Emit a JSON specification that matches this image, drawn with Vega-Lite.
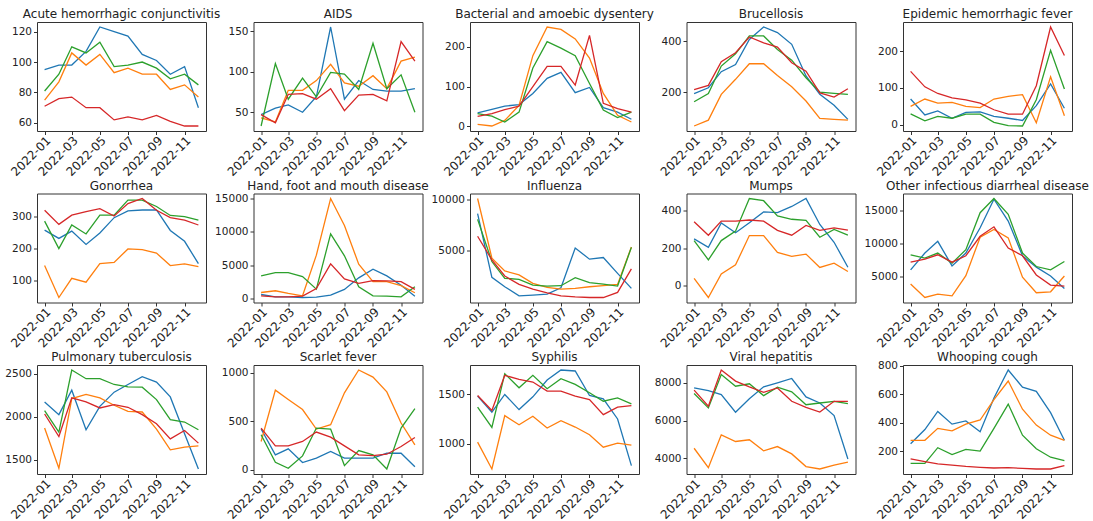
{
"$schema":"https://vega.github.io/schema/vega-lite/v6.json",
"padding":{"left":4,"top":7,"right":0,"bottom":0},
"columns":5,
"spacing":{"row":62.5,"column":47.5},
"bounds":"flush",
"config":{"font":"DejaVu Sans","view":{"stroke":"#333","strokeWidth":1},"axis":{"grid":false,"domain":false,"labelFont":"DejaVu Sans","labelFontSize":10.5,"labelColor":"#222","tickColor":"#333","tickSize":3.5,"labelPadding":2,"labelOverlap":false,"labelFlush":false},"axisX":{"labelAngle":-45,"labelFontSize":12,"labelPadding":0},"title":{"fontSize":12,"fontWeight":"normal","font":"DejaVu Sans","offset":1,"frame":"group","color":"#222"},"line":{"strokeWidth":1.3}},
"datasets":{
"p1":[{"t":"2022-01","s":"A","v":95},{"t":"2022-02","s":"A","v":98},{"t":"2022-03","s":"A","v":98},{"t":"2022-04","s":"A","v":107},{"t":"2022-05","s":"A","v":123},{"t":"2022-06","s":"A","v":120},{"t":"2022-07","s":"A","v":117},{"t":"2022-08","s":"A","v":105},{"t":"2022-09","s":"A","v":101},{"t":"2022-10","s":"A","v":92},{"t":"2022-11","s":"A","v":97},{"t":"2022-12","s":"A","v":70},
{"t":"2022-01","s":"B","v":75},{"t":"2022-02","s":"B","v":87},{"t":"2022-03","s":"B","v":106},{"t":"2022-04","s":"B","v":98},{"t":"2022-05","s":"B","v":105},{"t":"2022-06","s":"B","v":93},{"t":"2022-07","s":"B","v":96},{"t":"2022-08","s":"B","v":92},{"t":"2022-09","s":"B","v":92},{"t":"2022-10","s":"B","v":82},{"t":"2022-11","s":"B","v":85},{"t":"2022-12","s":"B","v":77},
{"t":"2022-01","s":"C","v":81},{"t":"2022-02","s":"C","v":92},{"t":"2022-03","s":"C","v":110},{"t":"2022-04","s":"C","v":106},{"t":"2022-05","s":"C","v":113},{"t":"2022-06","s":"C","v":97},{"t":"2022-07","s":"C","v":98},{"t":"2022-08","s":"C","v":100},{"t":"2022-09","s":"C","v":96},{"t":"2022-10","s":"C","v":89},{"t":"2022-11","s":"C","v":92},{"t":"2022-12","s":"C","v":85},
{"t":"2022-01","s":"D","v":71},{"t":"2022-02","s":"D","v":76},{"t":"2022-03","s":"D","v":77},{"t":"2022-04","s":"D","v":70},{"t":"2022-05","s":"D","v":70},{"t":"2022-06","s":"D","v":62},{"t":"2022-07","s":"D","v":64},{"t":"2022-08","s":"D","v":62},{"t":"2022-09","s":"D","v":65},{"t":"2022-10","s":"D","v":61},{"t":"2022-11","s":"D","v":58},{"t":"2022-12","s":"D","v":58}],
"p2":[{"t":"2022-01","s":"A","v":47},{"t":"2022-02","s":"A","v":55},{"t":"2022-03","s":"A","v":59},{"t":"2022-04","s":"A","v":50},{"t":"2022-05","s":"A","v":69},{"t":"2022-06","s":"A","v":155},{"t":"2022-07","s":"A","v":66},{"t":"2022-08","s":"A","v":89},{"t":"2022-09","s":"A","v":78},{"t":"2022-10","s":"A","v":76},{"t":"2022-11","s":"A","v":76},{"t":"2022-12","s":"A","v":79},
{"t":"2022-01","s":"B","v":43},{"t":"2022-02","s":"B","v":38},{"t":"2022-03","s":"B","v":77},{"t":"2022-04","s":"B","v":77},{"t":"2022-05","s":"B","v":89},{"t":"2022-06","s":"B","v":109},{"t":"2022-07","s":"B","v":86},{"t":"2022-08","s":"B","v":82},{"t":"2022-09","s":"B","v":95},{"t":"2022-10","s":"B","v":79},{"t":"2022-11","s":"B","v":113},{"t":"2022-12","s":"B","v":118},
{"t":"2022-01","s":"C","v":33},{"t":"2022-02","s":"C","v":110},{"t":"2022-03","s":"C","v":66},{"t":"2022-04","s":"C","v":92},{"t":"2022-05","s":"C","v":69},{"t":"2022-06","s":"C","v":99},{"t":"2022-07","s":"C","v":97},{"t":"2022-08","s":"C","v":78},{"t":"2022-09","s":"C","v":135},{"t":"2022-10","s":"C","v":79},{"t":"2022-11","s":"C","v":96},{"t":"2022-12","s":"C","v":50},
{"t":"2022-01","s":"D","v":47},{"t":"2022-02","s":"D","v":37},{"t":"2022-03","s":"D","v":72},{"t":"2022-04","s":"D","v":73},{"t":"2022-05","s":"D","v":66},{"t":"2022-06","s":"D","v":79},{"t":"2022-07","s":"D","v":52},{"t":"2022-08","s":"D","v":71},{"t":"2022-09","s":"D","v":72},{"t":"2022-10","s":"D","v":64},{"t":"2022-11","s":"D","v":137},{"t":"2022-12","s":"D","v":113}],
"p3":[{"t":"2022-01","s":"A","v":34},{"t":"2022-02","s":"A","v":43},{"t":"2022-03","s":"A","v":51},{"t":"2022-04","s":"A","v":55},{"t":"2022-05","s":"A","v":83},{"t":"2022-06","s":"A","v":121},{"t":"2022-07","s":"A","v":136},{"t":"2022-08","s":"A","v":85},{"t":"2022-09","s":"A","v":98},{"t":"2022-10","s":"A","v":47},{"t":"2022-11","s":"A","v":36},{"t":"2022-12","s":"A","v":18},
{"t":"2022-01","s":"B","v":5},{"t":"2022-02","s":"B","v":1},{"t":"2022-03","s":"B","v":15},{"t":"2022-04","s":"B","v":53},{"t":"2022-05","s":"B","v":178},{"t":"2022-06","s":"B","v":250},{"t":"2022-07","s":"B","v":244},{"t":"2022-08","s":"B","v":220},{"t":"2022-09","s":"B","v":172},{"t":"2022-10","s":"B","v":83},{"t":"2022-11","s":"B","v":28},{"t":"2022-12","s":"B","v":11},
{"t":"2022-01","s":"C","v":32},{"t":"2022-02","s":"C","v":26},{"t":"2022-03","s":"C","v":11},{"t":"2022-04","s":"C","v":36},{"t":"2022-05","s":"C","v":147},{"t":"2022-06","s":"C","v":213},{"t":"2022-07","s":"C","v":197},{"t":"2022-08","s":"C","v":178},{"t":"2022-09","s":"C","v":108},{"t":"2022-10","s":"C","v":41},{"t":"2022-11","s":"C","v":22},{"t":"2022-12","s":"C","v":36},
{"t":"2022-01","s":"D","v":25},{"t":"2022-02","s":"D","v":32},{"t":"2022-03","s":"D","v":42},{"t":"2022-04","s":"D","v":51},{"t":"2022-05","s":"D","v":100},{"t":"2022-06","s":"D","v":151},{"t":"2022-07","s":"D","v":151},{"t":"2022-08","s":"D","v":104},{"t":"2022-09","s":"D","v":229},{"t":"2022-10","s":"D","v":58},{"t":"2022-11","s":"D","v":45},{"t":"2022-12","s":"D","v":36}],
"p4":[{"t":"2022-01","s":"A","v":194},{"t":"2022-02","s":"A","v":217},{"t":"2022-03","s":"A","v":280},{"t":"2022-04","s":"A","v":308},{"t":"2022-05","s":"A","v":406},{"t":"2022-06","s":"A","v":455},{"t":"2022-07","s":"A","v":433},{"t":"2022-08","s":"A","v":387},{"t":"2022-09","s":"A","v":263},{"t":"2022-10","s":"A","v":191},{"t":"2022-11","s":"A","v":148},{"t":"2022-12","s":"A","v":93},
{"t":"2022-01","s":"B","v":67},{"t":"2022-02","s":"B","v":90},{"t":"2022-03","s":"B","v":191},{"t":"2022-04","s":"B","v":250},{"t":"2022-05","s":"B","v":311},{"t":"2022-06","s":"B","v":311},{"t":"2022-07","s":"B","v":265},{"t":"2022-08","s":"B","v":221},{"t":"2022-09","s":"B","v":165},{"t":"2022-10","s":"B","v":97},{"t":"2022-11","s":"B","v":93},{"t":"2022-12","s":"B","v":90},
{"t":"2022-01","s":"C","v":162},{"t":"2022-02","s":"C","v":194},{"t":"2022-03","s":"C","v":302},{"t":"2022-04","s":"C","v":350},{"t":"2022-05","s":"C","v":420},{"t":"2022-06","s":"C","v":420},{"t":"2022-07","s":"C","v":367},{"t":"2022-08","s":"C","v":325},{"t":"2022-09","s":"C","v":256},{"t":"2022-10","s":"C","v":200},{"t":"2022-11","s":"C","v":195},{"t":"2022-12","s":"C","v":191},
{"t":"2022-01","s":"D","v":210},{"t":"2022-02","s":"D","v":226},{"t":"2022-03","s":"D","v":319},{"t":"2022-04","s":"D","v":354},{"t":"2022-05","s":"D","v":416},{"t":"2022-06","s":"D","v":393},{"t":"2022-07","s":"D","v":376},{"t":"2022-08","s":"D","v":315},{"t":"2022-09","s":"D","v":282},{"t":"2022-10","s":"D","v":197},{"t":"2022-11","s":"D","v":180},{"t":"2022-12","s":"D","v":213}],
"p5":[{"t":"2022-01","s":"A","v":70},{"t":"2022-02","s":"A","v":27},{"t":"2022-03","s":"A","v":38},{"t":"2022-04","s":"A","v":18},{"t":"2022-05","s":"A","v":34},{"t":"2022-06","s":"A","v":35},{"t":"2022-07","s":"A","v":23},{"t":"2022-08","s":"A","v":18},{"t":"2022-09","s":"A","v":12},{"t":"2022-10","s":"A","v":52},{"t":"2022-11","s":"A","v":111},{"t":"2022-12","s":"A","v":45},
{"t":"2022-01","s":"B","v":50},{"t":"2022-02","s":"B","v":70},{"t":"2022-03","s":"B","v":59},{"t":"2022-04","s":"B","v":61},{"t":"2022-05","s":"B","v":50},{"t":"2022-06","s":"B","v":47},{"t":"2022-07","s":"B","v":70},{"t":"2022-08","s":"B","v":77},{"t":"2022-09","s":"B","v":82},{"t":"2022-10","s":"B","v":6},{"t":"2022-11","s":"B","v":130},{"t":"2022-12","s":"B","v":25},
{"t":"2022-01","s":"C","v":30},{"t":"2022-02","s":"C","v":11},{"t":"2022-03","s":"C","v":23},{"t":"2022-04","s":"C","v":18},{"t":"2022-05","s":"C","v":29},{"t":"2022-06","s":"C","v":29},{"t":"2022-07","s":"C","v":7},{"t":"2022-08","s":"C","v":-2},{"t":"2022-09","s":"C","v":-3},{"t":"2022-10","s":"C","v":68},{"t":"2022-11","s":"C","v":202},{"t":"2022-12","s":"C","v":97},
{"t":"2022-01","s":"D","v":145},{"t":"2022-02","s":"D","v":103},{"t":"2022-03","s":"D","v":85},{"t":"2022-04","s":"D","v":73},{"t":"2022-05","s":"D","v":68},{"t":"2022-06","s":"D","v":59},{"t":"2022-07","s":"D","v":41},{"t":"2022-08","s":"D","v":29},{"t":"2022-09","s":"D","v":29},{"t":"2022-10","s":"D","v":106},{"t":"2022-11","s":"D","v":265},{"t":"2022-12","s":"D","v":188}],
"p6":[{"t":"2022-01","s":"A","v":258},{"t":"2022-02","s":"A","v":232},{"t":"2022-03","s":"A","v":255},{"t":"2022-04","s":"A","v":213},{"t":"2022-05","s":"A","v":249},{"t":"2022-06","s":"A","v":297},{"t":"2022-07","s":"A","v":318},{"t":"2022-08","s":"A","v":321},{"t":"2022-09","s":"A","v":321},{"t":"2022-10","s":"A","v":257},{"t":"2022-11","s":"A","v":223},{"t":"2022-12","s":"A","v":153},
{"t":"2022-01","s":"B","v":147},{"t":"2022-02","s":"B","v":47},{"t":"2022-03","s":"B","v":107},{"t":"2022-04","s":"B","v":95},{"t":"2022-05","s":"B","v":153},{"t":"2022-06","s":"B","v":157},{"t":"2022-07","s":"B","v":199},{"t":"2022-08","s":"B","v":197},{"t":"2022-09","s":"B","v":186},{"t":"2022-10","s":"B","v":147},{"t":"2022-11","s":"B","v":152},{"t":"2022-12","s":"B","v":144},
{"t":"2022-01","s":"C","v":286},{"t":"2022-02","s":"C","v":200},{"t":"2022-03","s":"C","v":274},{"t":"2022-04","s":"C","v":246},{"t":"2022-05","s":"C","v":305},{"t":"2022-06","s":"C","v":305},{"t":"2022-07","s":"C","v":352},{"t":"2022-08","s":"C","v":352},{"t":"2022-09","s":"C","v":332},{"t":"2022-10","s":"C","v":304},{"t":"2022-11","s":"C","v":300},{"t":"2022-12","s":"C","v":289},
{"t":"2022-01","s":"D","v":320},{"t":"2022-02","s":"D","v":276},{"t":"2022-03","s":"D","v":305},{"t":"2022-04","s":"D","v":316},{"t":"2022-05","s":"D","v":325},{"t":"2022-06","s":"D","v":302},{"t":"2022-07","s":"D","v":341},{"t":"2022-08","s":"D","v":357},{"t":"2022-09","s":"D","v":320},{"t":"2022-10","s":"D","v":297},{"t":"2022-11","s":"D","v":289},{"t":"2022-12","s":"D","v":274}],
"p7":[{"t":"2022-01","s":"A","v":600},{"t":"2022-02","s":"A","v":250},{"t":"2022-03","s":"A","v":250},{"t":"2022-04","s":"A","v":150},{"t":"2022-05","s":"A","v":200},{"t":"2022-06","s":"A","v":500},{"t":"2022-07","s":"A","v":1360},{"t":"2022-08","s":"A","v":3100},{"t":"2022-09","s":"A","v":4400},{"t":"2022-10","s":"A","v":3400},{"t":"2022-11","s":"A","v":2000},{"t":"2022-12","s":"A","v":350},
{"t":"2022-01","s":"B","v":900},{"t":"2022-02","s":"B","v":1160},{"t":"2022-03","s":"B","v":760},{"t":"2022-04","s":"B","v":400},{"t":"2022-05","s":"B","v":6500},{"t":"2022-06","s":"B","v":15000},{"t":"2022-07","s":"B","v":10960},{"t":"2022-08","s":"B","v":5150},{"t":"2022-09","s":"B","v":2530},{"t":"2022-10","s":"B","v":2530},{"t":"2022-11","s":"B","v":1920},{"t":"2022-12","s":"B","v":860},
{"t":"2022-01","s":"C","v":3380},{"t":"2022-02","s":"C","v":3890},{"t":"2022-03","s":"C","v":3890},{"t":"2022-04","s":"C","v":3280},{"t":"2022-05","s":"C","v":1400},{"t":"2022-06","s":"C","v":9700},{"t":"2022-07","s":"C","v":6400},{"t":"2022-08","s":"C","v":1770},{"t":"2022-09","s":"C","v":400},{"t":"2022-10","s":"C","v":350},{"t":"2022-11","s":"C","v":250},{"t":"2022-12","s":"C","v":1770},
{"t":"2022-01","s":"D","v":400},{"t":"2022-02","s":"D","v":250},{"t":"2022-03","s":"D","v":250},{"t":"2022-04","s":"D","v":350},{"t":"2022-05","s":"D","v":1500},{"t":"2022-06","s":"D","v":5200},{"t":"2022-07","s":"D","v":2930},{"t":"2022-08","s":"D","v":2270},{"t":"2022-09","s":"D","v":2680},{"t":"2022-10","s":"D","v":2630},{"t":"2022-11","s":"D","v":2530},{"t":"2022-12","s":"D","v":1360}],
"p8":[{"t":"2022-01","s":"A","v":8600},{"t":"2022-02","s":"A","v":2440},{"t":"2022-03","s":"A","v":1530},{"t":"2022-04","s":"A","v":650},{"t":"2022-05","s":"A","v":720},{"t":"2022-06","s":"A","v":810},{"t":"2022-07","s":"A","v":1430},{"t":"2022-08","s":"A","v":5280},{"t":"2022-09","s":"A","v":4200},{"t":"2022-10","s":"A","v":4360},{"t":"2022-11","s":"A","v":2830},{"t":"2022-12","s":"A","v":1370},
{"t":"2022-01","s":"B","v":10070},{"t":"2022-02","s":"B","v":4300},{"t":"2022-03","s":"B","v":3060},{"t":"2022-04","s":"B","v":2670},{"t":"2022-05","s":"B","v":1860},{"t":"2022-06","s":"B","v":1470},{"t":"2022-07","s":"B","v":1300},{"t":"2022-08","s":"B","v":1370},{"t":"2022-09","s":"B","v":1530},{"t":"2022-10","s":"B","v":1630},{"t":"2022-11","s":"B","v":1760},{"t":"2022-12","s":"B","v":5370},
{"t":"2022-01","s":"C","v":8050},{"t":"2022-02","s":"C","v":3970},{"t":"2022-03","s":"C","v":2350},{"t":"2022-04","s":"C","v":2250},{"t":"2022-05","s":"C","v":1690},{"t":"2022-06","s":"C","v":1600},{"t":"2022-07","s":"C","v":1630},{"t":"2022-08","s":"C","v":2410},{"t":"2022-09","s":"C","v":1920},{"t":"2022-10","s":"C","v":1790},{"t":"2022-11","s":"C","v":1600},{"t":"2022-12","s":"C","v":5340},
{"t":"2022-01","s":"D","v":6420},{"t":"2022-02","s":"D","v":4140},{"t":"2022-03","s":"D","v":2570},{"t":"2022-04","s":"D","v":1760},{"t":"2022-05","s":"D","v":1300},{"t":"2022-06","s":"D","v":940},{"t":"2022-07","s":"D","v":650},{"t":"2022-08","s":"D","v":550},{"t":"2022-09","s":"D","v":490},{"t":"2022-10","s":"D","v":490},{"t":"2022-11","s":"D","v":980},{"t":"2022-12","s":"D","v":3260}],
"p9":[{"t":"2022-01","s":"A","v":249},{"t":"2022-02","s":"A","v":204},{"t":"2022-03","s":"A","v":335},{"t":"2022-04","s":"A","v":282},{"t":"2022-05","s":"A","v":336},{"t":"2022-06","s":"A","v":395},{"t":"2022-07","s":"A","v":391},{"t":"2022-08","s":"A","v":424},{"t":"2022-09","s":"A","v":467},{"t":"2022-10","s":"A","v":327},{"t":"2022-11","s":"A","v":231},{"t":"2022-12","s":"A","v":96},
{"t":"2022-01","s":"B","v":36},{"t":"2022-02","s":"B","v":-67},{"t":"2022-03","s":"B","v":60},{"t":"2022-04","s":"B","v":109},{"t":"2022-05","s":"B","v":267},{"t":"2022-06","s":"B","v":267},{"t":"2022-07","s":"B","v":176},{"t":"2022-08","s":"B","v":155},{"t":"2022-09","s":"B","v":167},{"t":"2022-10","s":"B","v":95},{"t":"2022-11","s":"B","v":118},{"t":"2022-12","s":"B","v":73},
{"t":"2022-01","s":"C","v":240},{"t":"2022-02","s":"C","v":136},{"t":"2022-03","s":"C","v":240},{"t":"2022-04","s":"C","v":291},{"t":"2022-05","s":"C","v":467},{"t":"2022-06","s":"C","v":455},{"t":"2022-07","s":"C","v":373},{"t":"2022-08","s":"C","v":355},{"t":"2022-09","s":"C","v":349},{"t":"2022-10","s":"C","v":258},{"t":"2022-11","s":"C","v":300},{"t":"2022-12","s":"C","v":269},
{"t":"2022-01","s":"D","v":342},{"t":"2022-02","s":"D","v":269},{"t":"2022-03","s":"D","v":345},{"t":"2022-04","s":"D","v":345},{"t":"2022-05","s":"D","v":351},{"t":"2022-06","s":"D","v":345},{"t":"2022-07","s":"D","v":295},{"t":"2022-08","s":"D","v":269},{"t":"2022-09","s":"D","v":322},{"t":"2022-10","s":"D","v":295},{"t":"2022-11","s":"D","v":309},{"t":"2022-12","s":"D","v":296}],
"p10":[{"t":"2022-01","s":"A","v":6030},{"t":"2022-02","s":"A","v":8590},{"t":"2022-03","s":"A","v":10380},{"t":"2022-04","s":"A","v":6640},{"t":"2022-05","s":"A","v":8590},{"t":"2022-06","s":"A","v":12440},{"t":"2022-07","s":"A","v":16790},{"t":"2022-08","s":"A","v":13460},{"t":"2022-09","s":"A","v":8180},{"t":"2022-10","s":"A","v":6440},{"t":"2022-11","s":"A","v":5100},{"t":"2022-12","s":"A","v":3200},
{"t":"2022-01","s":"B","v":3870},{"t":"2022-02","s":"B","v":1820},{"t":"2022-03","s":"B","v":2330},{"t":"2022-04","s":"B","v":2080},{"t":"2022-05","s":"B","v":5150},{"t":"2022-06","s":"B","v":11000},{"t":"2022-07","s":"B","v":12180},{"t":"2022-08","s":"B","v":10900},{"t":"2022-09","s":"B","v":4900},{"t":"2022-10","s":"B","v":2540},{"t":"2022-11","s":"B","v":2690},{"t":"2022-12","s":"B","v":5100},
{"t":"2022-01","s":"C","v":8330},{"t":"2022-02","s":"C","v":7820},{"t":"2022-03","s":"C","v":8590},{"t":"2022-04","s":"C","v":7050},{"t":"2022-05","s":"C","v":9100},{"t":"2022-06","s":"C","v":14740},{"t":"2022-07","s":"C","v":16900},{"t":"2022-08","s":"C","v":14490},{"t":"2022-09","s":"C","v":8590},{"t":"2022-10","s":"C","v":6540},{"t":"2022-11","s":"C","v":6030},{"t":"2022-12","s":"C","v":7310},
{"t":"2022-01","s":"D","v":7200},{"t":"2022-02","s":"D","v":7670},{"t":"2022-03","s":"D","v":8330},{"t":"2022-04","s":"D","v":7200},{"t":"2022-05","s":"D","v":8180},{"t":"2022-06","s":"D","v":11150},{"t":"2022-07","s":"D","v":12590},{"t":"2022-08","s":"D","v":9360},{"t":"2022-09","s":"D","v":8180},{"t":"2022-10","s":"D","v":5260},{"t":"2022-11","s":"D","v":3720},{"t":"2022-12","s":"D","v":3560}],
"p11":[{"t":"2022-01","s":"A","v":2173},{"t":"2022-02","s":"A","v":2025},{"t":"2022-03","s":"A","v":2309},{"t":"2022-04","s":"A","v":1850},{"t":"2022-05","s":"A","v":2122},{"t":"2022-06","s":"A","v":2286},{"t":"2022-07","s":"A","v":2375},{"t":"2022-08","s":"A","v":2465},{"t":"2022-09","s":"A","v":2403},{"t":"2022-10","s":"A","v":2231},{"t":"2022-11","s":"A","v":1803},{"t":"2022-12","s":"A","v":1395},
{"t":"2022-01","s":"B","v":1870},{"t":"2022-02","s":"B","v":1403},{"t":"2022-03","s":"B","v":2212},{"t":"2022-04","s":"B","v":2259},{"t":"2022-05","s":"B","v":2220},{"t":"2022-06","s":"B","v":2134},{"t":"2022-07","s":"B","v":2064},{"t":"2022-08","s":"B","v":2056},{"t":"2022-09","s":"B","v":1858},{"t":"2022-10","s":"B","v":1617},{"t":"2022-11","s":"B","v":1648},{"t":"2022-12","s":"B","v":1663},
{"t":"2022-01","s":"C","v":2072},{"t":"2022-02","s":"C","v":1823},{"t":"2022-03","s":"C","v":2543},{"t":"2022-04","s":"C","v":2442},{"t":"2022-05","s":"C","v":2442},{"t":"2022-06","s":"C","v":2375},{"t":"2022-07","s":"C","v":2348},{"t":"2022-08","s":"C","v":2344},{"t":"2022-09","s":"C","v":2200},{"t":"2022-10","s":"C","v":1967},{"t":"2022-11","s":"C","v":1940},{"t":"2022-12","s":"C","v":1850},
{"t":"2022-01","s":"D","v":2033},{"t":"2022-02","s":"D","v":1772},{"t":"2022-03","s":"D","v":2220},{"t":"2022-04","s":"D","v":2173},{"t":"2022-05","s":"D","v":2103},{"t":"2022-06","s":"D","v":2142},{"t":"2022-07","s":"D","v":2111},{"t":"2022-08","s":"D","v":2025},{"t":"2022-09","s":"D","v":1920},{"t":"2022-10","s":"D","v":1745},{"t":"2022-11","s":"D","v":1842},{"t":"2022-12","s":"D","v":1695}],
"p12":[{"t":"2022-01","s":"A","v":421},{"t":"2022-02","s":"A","v":155},{"t":"2022-03","s":"A","v":217},{"t":"2022-04","s":"A","v":76},{"t":"2022-05","s":"A","v":121},{"t":"2022-06","s":"A","v":190},{"t":"2022-07","s":"A","v":121},{"t":"2022-08","s":"A","v":121},{"t":"2022-09","s":"A","v":121},{"t":"2022-10","s":"A","v":172},{"t":"2022-11","s":"A","v":172},{"t":"2022-12","s":"A","v":34},
{"t":"2022-01","s":"B","v":293},{"t":"2022-02","s":"B","v":821},{"t":"2022-03","s":"B","v":724},{"t":"2022-04","s":"B","v":621},{"t":"2022-05","s":"B","v":421},{"t":"2022-06","s":"B","v":466},{"t":"2022-07","s":"B","v":793},{"t":"2022-08","s":"B","v":1028},{"t":"2022-09","s":"B","v":955},{"t":"2022-10","s":"B","v":803},{"t":"2022-11","s":"B","v":483},{"t":"2022-12","s":"B","v":259},
{"t":"2022-01","s":"C","v":362},{"t":"2022-02","s":"C","v":79},{"t":"2022-03","s":"C","v":17},{"t":"2022-04","s":"C","v":145},{"t":"2022-05","s":"C","v":431},{"t":"2022-06","s":"C","v":421},{"t":"2022-07","s":"C","v":45},{"t":"2022-08","s":"C","v":200},{"t":"2022-09","s":"C","v":155},{"t":"2022-10","s":"C","v":10},{"t":"2022-11","s":"C","v":431},{"t":"2022-12","s":"C","v":631},
{"t":"2022-01","s":"D","v":431},{"t":"2022-02","s":"D","v":248},{"t":"2022-03","s":"D","v":248},{"t":"2022-04","s":"D","v":293},{"t":"2022-05","s":"D","v":390},{"t":"2022-06","s":"D","v":338},{"t":"2022-07","s":"D","v":248},{"t":"2022-08","s":"D","v":155},{"t":"2022-09","s":"D","v":148},{"t":"2022-10","s":"D","v":162},{"t":"2022-11","s":"D","v":241},{"t":"2022-12","s":"D","v":334}],
"p13":[{"t":"2022-01","s":"A","v":1483},{"t":"2022-02","s":"A","v":1320},{"t":"2022-03","s":"A","v":1500},{"t":"2022-04","s":"A","v":1347},{"t":"2022-05","s":"A","v":1476},{"t":"2022-06","s":"A","v":1646},{"t":"2022-07","s":"A","v":1748},{"t":"2022-08","s":"A","v":1738},{"t":"2022-09","s":"A","v":1490},{"t":"2022-10","s":"A","v":1456},{"t":"2022-11","s":"A","v":1252},{"t":"2022-12","s":"A","v":779},
{"t":"2022-01","s":"B","v":1017},{"t":"2022-02","s":"B","v":745},{"t":"2022-03","s":"B","v":1286},{"t":"2022-04","s":"B","v":1194},{"t":"2022-05","s":"B","v":1279},{"t":"2022-06","s":"B","v":1160},{"t":"2022-07","s":"B","v":1235},{"t":"2022-08","s":"B","v":1170},{"t":"2022-09","s":"B","v":1092},{"t":"2022-10","s":"B","v":966},{"t":"2022-11","s":"B","v":1007},{"t":"2022-12","s":"B","v":986},
{"t":"2022-01","s":"C","v":1371},{"t":"2022-02","s":"C","v":1167},{"t":"2022-03","s":"C","v":1711},{"t":"2022-04","s":"C","v":1568},{"t":"2022-05","s":"C","v":1694},{"t":"2022-06","s":"C","v":1558},{"t":"2022-07","s":"C","v":1660},{"t":"2022-08","s":"C","v":1602},{"t":"2022-09","s":"C","v":1517},{"t":"2022-10","s":"C","v":1432},{"t":"2022-11","s":"C","v":1466},{"t":"2022-12","s":"C","v":1405},
{"t":"2022-01","s":"D","v":1490},{"t":"2022-02","s":"D","v":1337},{"t":"2022-03","s":"D","v":1694},{"t":"2022-04","s":"D","v":1653},{"t":"2022-05","s":"D","v":1626},{"t":"2022-06","s":"D","v":1534},{"t":"2022-07","s":"D","v":1534},{"t":"2022-08","s":"D","v":1483},{"t":"2022-09","s":"D","v":1449},{"t":"2022-10","s":"D","v":1296},{"t":"2022-11","s":"D","v":1371},{"t":"2022-12","s":"D","v":1388}],
"p14":[{"t":"2022-01","s":"A","v":7730},{"t":"2022-02","s":"A","v":7590},{"t":"2022-03","s":"A","v":7380},{"t":"2022-04","s":"A","v":6440},{"t":"2022-05","s":"A","v":7160},{"t":"2022-06","s":"A","v":7790},{"t":"2022-07","s":"A","v":8000},{"t":"2022-08","s":"A","v":8230},{"t":"2022-09","s":"A","v":7250},{"t":"2022-10","s":"A","v":6930},{"t":"2022-11","s":"A","v":6260},{"t":"2022-12","s":"A","v":3960},
{"t":"2022-01","s":"B","v":4530},{"t":"2022-02","s":"B","v":3500},{"t":"2022-03","s":"B","v":5240},{"t":"2022-04","s":"B","v":4890},{"t":"2022-05","s":"B","v":4980},{"t":"2022-06","s":"B","v":4390},{"t":"2022-07","s":"B","v":4620},{"t":"2022-08","s":"B","v":4230},{"t":"2022-09","s":"B","v":3560},{"t":"2022-10","s":"B","v":3430},{"t":"2022-11","s":"B","v":3640},{"t":"2022-12","s":"B","v":3790},
{"t":"2022-01","s":"C","v":7430},{"t":"2022-02","s":"C","v":6670},{"t":"2022-03","s":"C","v":8440},{"t":"2022-04","s":"C","v":7820},{"t":"2022-05","s":"C","v":7950},{"t":"2022-06","s":"C","v":7320},{"t":"2022-07","s":"C","v":7770},{"t":"2022-08","s":"C","v":7520},{"t":"2022-09","s":"C","v":6840},{"t":"2022-10","s":"C","v":6930},{"t":"2022-11","s":"C","v":7020},{"t":"2022-12","s":"C","v":6900},
{"t":"2022-01","s":"D","v":7610},{"t":"2022-02","s":"D","v":6760},{"t":"2022-03","s":"D","v":8680},{"t":"2022-04","s":"D","v":8090},{"t":"2022-05","s":"D","v":7790},{"t":"2022-06","s":"D","v":7500},{"t":"2022-07","s":"D","v":7730},{"t":"2022-08","s":"D","v":7020},{"t":"2022-09","s":"D","v":6700},{"t":"2022-10","s":"D","v":6450},{"t":"2022-11","s":"D","v":7020},{"t":"2022-12","s":"D","v":7020}],
"p15":[{"t":"2022-01","s":"A","v":252},{"t":"2022-02","s":"A","v":352},{"t":"2022-03","s":"A","v":479},{"t":"2022-04","s":"A","v":390},{"t":"2022-05","s":"A","v":412},{"t":"2022-06","s":"A","v":336},{"t":"2022-07","s":"A","v":574},{"t":"2022-08","s":"A","v":771},{"t":"2022-09","s":"A","v":650},{"t":"2022-10","s":"A","v":621},{"t":"2022-11","s":"A","v":471},{"t":"2022-12","s":"A","v":276},
{"t":"2022-01","s":"B","v":276},{"t":"2022-02","s":"B","v":276},{"t":"2022-03","s":"B","v":360},{"t":"2022-04","s":"B","v":343},{"t":"2022-05","s":"B","v":390},{"t":"2022-06","s":"B","v":419},{"t":"2022-07","s":"B","v":562},{"t":"2022-08","s":"B","v":693},{"t":"2022-09","s":"B","v":495},{"t":"2022-10","s":"B","v":383},{"t":"2022-11","s":"B","v":312},{"t":"2022-12","s":"B","v":276},
{"t":"2022-01","s":"C","v":114},{"t":"2022-02","s":"C","v":114},{"t":"2022-03","s":"C","v":224},{"t":"2022-04","s":"C","v":176},{"t":"2022-05","s":"C","v":212},{"t":"2022-06","s":"C","v":200},{"t":"2022-07","s":"C","v":360},{"t":"2022-08","s":"C","v":531},{"t":"2022-09","s":"C","v":312},{"t":"2022-10","s":"C","v":217},{"t":"2022-11","s":"C","v":157},{"t":"2022-12","s":"C","v":133},
{"t":"2022-01","s":"D","v":145},{"t":"2022-02","s":"D","v":126},{"t":"2022-03","s":"D","v":110},{"t":"2022-04","s":"D","v":102},{"t":"2022-05","s":"D","v":93},{"t":"2022-06","s":"D","v":86},{"t":"2022-07","s":"D","v":81},{"t":"2022-08","s":"D","v":83},{"t":"2022-09","s":"D","v":79},{"t":"2022-10","s":"D","v":74},{"t":"2022-11","s":"D","v":74},{"t":"2022-12","s":"D","v":98}]
},
"concat":[
{"title":{"text":"Acute hemorrhagic conjunctivitis"},"width":169,"height":109,"data":{"name":"p1"},"mark":"line","encoding":{"x":{"field":"t","type":"temporal","title":null,"scale":{"type":"utc","padding":7.6},"axis":{"format":"%Y-%m","values":[{"year":2022,"month":1,"date":1,"utc":true},{"year":2022,"month":3,"date":1,"utc":true},{"year":2022,"month":5,"date":1,"utc":true},{"year":2022,"month":7,"date":1,"utc":true},{"year":2022,"month":9,"date":1,"utc":true},{"year":2022,"month":11,"date":1,"utc":true}]}},"y":{"field":"v","type":"quantitative","title":null,"scale":{"zero":false,"nice":false,"padding":5},"axis":{"format":"d","values":[60,80,100,120]}},"color":{"field":"s","type":"nominal","legend":null,"scale":{"domain":["A","B","C","D"],"range":["#1f77b4","#ff7f0e","#2ca02c","#d62728"]}}}},
{"title":{"text":"AIDS"},"width":169,"height":109,"data":{"name":"p2"},"mark":"line","encoding":{"x":{"field":"t","type":"temporal","title":null,"scale":{"type":"utc","padding":7.6},"axis":{"format":"%Y-%m","values":[{"year":2022,"month":1,"date":1,"utc":true},{"year":2022,"month":3,"date":1,"utc":true},{"year":2022,"month":5,"date":1,"utc":true},{"year":2022,"month":7,"date":1,"utc":true},{"year":2022,"month":9,"date":1,"utc":true},{"year":2022,"month":11,"date":1,"utc":true}]}},"y":{"field":"v","type":"quantitative","title":null,"scale":{"zero":false,"nice":false,"padding":5},"axis":{"format":"d","values":[50,100,150]}},"color":{"field":"s","type":"nominal","legend":null,"scale":{"domain":["A","B","C","D"],"range":["#1f77b4","#ff7f0e","#2ca02c","#d62728"]}}}},
{"title":{"text":"Bacterial and amoebic dysentery"},"width":169,"height":109,"data":{"name":"p3"},"mark":"line","encoding":{"x":{"field":"t","type":"temporal","title":null,"scale":{"type":"utc","padding":7.6},"axis":{"format":"%Y-%m","values":[{"year":2022,"month":1,"date":1,"utc":true},{"year":2022,"month":3,"date":1,"utc":true},{"year":2022,"month":5,"date":1,"utc":true},{"year":2022,"month":7,"date":1,"utc":true},{"year":2022,"month":9,"date":1,"utc":true},{"year":2022,"month":11,"date":1,"utc":true}]}},"y":{"field":"v","type":"quantitative","title":null,"scale":{"zero":false,"nice":false,"padding":5},"axis":{"format":"d","values":[0,100,200]}},"color":{"field":"s","type":"nominal","legend":null,"scale":{"domain":["A","B","C","D"],"range":["#1f77b4","#ff7f0e","#2ca02c","#d62728"]}}}},
{"title":{"text":"Brucellosis"},"width":169,"height":109,"data":{"name":"p4"},"mark":"line","encoding":{"x":{"field":"t","type":"temporal","title":null,"scale":{"type":"utc","padding":7.6},"axis":{"format":"%Y-%m","values":[{"year":2022,"month":1,"date":1,"utc":true},{"year":2022,"month":3,"date":1,"utc":true},{"year":2022,"month":5,"date":1,"utc":true},{"year":2022,"month":7,"date":1,"utc":true},{"year":2022,"month":9,"date":1,"utc":true},{"year":2022,"month":11,"date":1,"utc":true}]}},"y":{"field":"v","type":"quantitative","title":null,"scale":{"zero":false,"nice":false,"padding":5},"axis":{"format":"d","values":[200,400]}},"color":{"field":"s","type":"nominal","legend":null,"scale":{"domain":["A","B","C","D"],"range":["#1f77b4","#ff7f0e","#2ca02c","#d62728"]}}}},
{"title":{"text":"Epidemic hemorrhagic fever"},"width":169,"height":109,"data":{"name":"p5"},"mark":"line","encoding":{"x":{"field":"t","type":"temporal","title":null,"scale":{"type":"utc","padding":7.6},"axis":{"format":"%Y-%m","values":[{"year":2022,"month":1,"date":1,"utc":true},{"year":2022,"month":3,"date":1,"utc":true},{"year":2022,"month":5,"date":1,"utc":true},{"year":2022,"month":7,"date":1,"utc":true},{"year":2022,"month":9,"date":1,"utc":true},{"year":2022,"month":11,"date":1,"utc":true}]}},"y":{"field":"v","type":"quantitative","title":null,"scale":{"zero":false,"nice":false,"padding":5},"axis":{"format":"d","values":[0,100,200]}},"color":{"field":"s","type":"nominal","legend":null,"scale":{"domain":["A","B","C","D"],"range":["#1f77b4","#ff7f0e","#2ca02c","#d62728"]}}}},
{"title":{"text":"Gonorrhea"},"width":169,"height":109,"data":{"name":"p6"},"mark":"line","encoding":{"x":{"field":"t","type":"temporal","title":null,"scale":{"type":"utc","padding":7.6},"axis":{"format":"%Y-%m","values":[{"year":2022,"month":1,"date":1,"utc":true},{"year":2022,"month":3,"date":1,"utc":true},{"year":2022,"month":5,"date":1,"utc":true},{"year":2022,"month":7,"date":1,"utc":true},{"year":2022,"month":9,"date":1,"utc":true},{"year":2022,"month":11,"date":1,"utc":true}]}},"y":{"field":"v","type":"quantitative","title":null,"scale":{"zero":false,"nice":false,"padding":5},"axis":{"format":"d","values":[100,200,300]}},"color":{"field":"s","type":"nominal","legend":null,"scale":{"domain":["A","B","C","D"],"range":["#1f77b4","#ff7f0e","#2ca02c","#d62728"]}}}},
{"title":{"text":"Hand, foot and mouth disease"},"width":169,"height":109,"data":{"name":"p7"},"mark":"line","encoding":{"x":{"field":"t","type":"temporal","title":null,"scale":{"type":"utc","padding":7.6},"axis":{"format":"%Y-%m","values":[{"year":2022,"month":1,"date":1,"utc":true},{"year":2022,"month":3,"date":1,"utc":true},{"year":2022,"month":5,"date":1,"utc":true},{"year":2022,"month":7,"date":1,"utc":true},{"year":2022,"month":9,"date":1,"utc":true},{"year":2022,"month":11,"date":1,"utc":true}]}},"y":{"field":"v","type":"quantitative","title":null,"scale":{"zero":false,"nice":false,"padding":5},"axis":{"format":"d","values":[0,5000,10000,15000]}},"color":{"field":"s","type":"nominal","legend":null,"scale":{"domain":["A","B","C","D"],"range":["#1f77b4","#ff7f0e","#2ca02c","#d62728"]}}}},
{"title":{"text":"Influenza"},"width":169,"height":109,"data":{"name":"p8"},"mark":"line","encoding":{"x":{"field":"t","type":"temporal","title":null,"scale":{"type":"utc","padding":7.6},"axis":{"format":"%Y-%m","values":[{"year":2022,"month":1,"date":1,"utc":true},{"year":2022,"month":3,"date":1,"utc":true},{"year":2022,"month":5,"date":1,"utc":true},{"year":2022,"month":7,"date":1,"utc":true},{"year":2022,"month":9,"date":1,"utc":true},{"year":2022,"month":11,"date":1,"utc":true}]}},"y":{"field":"v","type":"quantitative","title":null,"scale":{"zero":false,"nice":false,"padding":5},"axis":{"format":"d","values":[0,5000,10000]}},"color":{"field":"s","type":"nominal","legend":null,"scale":{"domain":["A","B","C","D"],"range":["#1f77b4","#ff7f0e","#2ca02c","#d62728"]}}}},
{"title":{"text":"Mumps"},"width":169,"height":109,"data":{"name":"p9"},"mark":"line","encoding":{"x":{"field":"t","type":"temporal","title":null,"scale":{"type":"utc","padding":7.6},"axis":{"format":"%Y-%m","values":[{"year":2022,"month":1,"date":1,"utc":true},{"year":2022,"month":3,"date":1,"utc":true},{"year":2022,"month":5,"date":1,"utc":true},{"year":2022,"month":7,"date":1,"utc":true},{"year":2022,"month":9,"date":1,"utc":true},{"year":2022,"month":11,"date":1,"utc":true}]}},"y":{"field":"v","type":"quantitative","title":null,"scale":{"zero":false,"nice":false,"padding":5},"axis":{"format":"d","values":[0,200,400]}},"color":{"field":"s","type":"nominal","legend":null,"scale":{"domain":["A","B","C","D"],"range":["#1f77b4","#ff7f0e","#2ca02c","#d62728"]}}}},
{"title":{"text":"Other infectious diarrheal disease"},"width":169,"height":109,"data":{"name":"p10"},"mark":"line","encoding":{"x":{"field":"t","type":"temporal","title":null,"scale":{"type":"utc","padding":7.6},"axis":{"format":"%Y-%m","values":[{"year":2022,"month":1,"date":1,"utc":true},{"year":2022,"month":3,"date":1,"utc":true},{"year":2022,"month":5,"date":1,"utc":true},{"year":2022,"month":7,"date":1,"utc":true},{"year":2022,"month":9,"date":1,"utc":true},{"year":2022,"month":11,"date":1,"utc":true}]}},"y":{"field":"v","type":"quantitative","title":null,"scale":{"zero":false,"nice":false,"padding":5},"axis":{"format":"d","values":[5000,10000,15000]}},"color":{"field":"s","type":"nominal","legend":null,"scale":{"domain":["A","B","C","D"],"range":["#1f77b4","#ff7f0e","#2ca02c","#d62728"]}}}},
{"title":{"text":"Pulmonary tuberculosis"},"width":169,"height":109,"data":{"name":"p11"},"mark":"line","encoding":{"x":{"field":"t","type":"temporal","title":null,"scale":{"type":"utc","padding":7.6},"axis":{"format":"%Y-%m","values":[{"year":2022,"month":1,"date":1,"utc":true},{"year":2022,"month":3,"date":1,"utc":true},{"year":2022,"month":5,"date":1,"utc":true},{"year":2022,"month":7,"date":1,"utc":true},{"year":2022,"month":9,"date":1,"utc":true},{"year":2022,"month":11,"date":1,"utc":true}]}},"y":{"field":"v","type":"quantitative","title":null,"scale":{"zero":false,"nice":false,"padding":5},"axis":{"format":"d","values":[1500,2000,2500]}},"color":{"field":"s","type":"nominal","legend":null,"scale":{"domain":["A","B","C","D"],"range":["#1f77b4","#ff7f0e","#2ca02c","#d62728"]}}}},
{"title":{"text":"Scarlet fever"},"width":169,"height":109,"data":{"name":"p12"},"mark":"line","encoding":{"x":{"field":"t","type":"temporal","title":null,"scale":{"type":"utc","padding":7.6},"axis":{"format":"%Y-%m","values":[{"year":2022,"month":1,"date":1,"utc":true},{"year":2022,"month":3,"date":1,"utc":true},{"year":2022,"month":5,"date":1,"utc":true},{"year":2022,"month":7,"date":1,"utc":true},{"year":2022,"month":9,"date":1,"utc":true},{"year":2022,"month":11,"date":1,"utc":true}]}},"y":{"field":"v","type":"quantitative","title":null,"scale":{"zero":false,"nice":false,"padding":5},"axis":{"format":"d","values":[0,500,1000]}},"color":{"field":"s","type":"nominal","legend":null,"scale":{"domain":["A","B","C","D"],"range":["#1f77b4","#ff7f0e","#2ca02c","#d62728"]}}}},
{"title":{"text":"Syphilis"},"width":169,"height":109,"data":{"name":"p13"},"mark":"line","encoding":{"x":{"field":"t","type":"temporal","title":null,"scale":{"type":"utc","padding":7.6},"axis":{"format":"%Y-%m","values":[{"year":2022,"month":1,"date":1,"utc":true},{"year":2022,"month":3,"date":1,"utc":true},{"year":2022,"month":5,"date":1,"utc":true},{"year":2022,"month":7,"date":1,"utc":true},{"year":2022,"month":9,"date":1,"utc":true},{"year":2022,"month":11,"date":1,"utc":true}]}},"y":{"field":"v","type":"quantitative","title":null,"scale":{"zero":false,"nice":false,"padding":5},"axis":{"format":"d","values":[1000,1500]}},"color":{"field":"s","type":"nominal","legend":null,"scale":{"domain":["A","B","C","D"],"range":["#1f77b4","#ff7f0e","#2ca02c","#d62728"]}}}},
{"title":{"text":"Viral hepatitis"},"width":169,"height":109,"data":{"name":"p14"},"mark":"line","encoding":{"x":{"field":"t","type":"temporal","title":null,"scale":{"type":"utc","padding":7.6},"axis":{"format":"%Y-%m","values":[{"year":2022,"month":1,"date":1,"utc":true},{"year":2022,"month":3,"date":1,"utc":true},{"year":2022,"month":5,"date":1,"utc":true},{"year":2022,"month":7,"date":1,"utc":true},{"year":2022,"month":9,"date":1,"utc":true},{"year":2022,"month":11,"date":1,"utc":true}]}},"y":{"field":"v","type":"quantitative","title":null,"scale":{"zero":false,"nice":false,"padding":5},"axis":{"format":"d","values":[4000,6000,8000]}},"color":{"field":"s","type":"nominal","legend":null,"scale":{"domain":["A","B","C","D"],"range":["#1f77b4","#ff7f0e","#2ca02c","#d62728"]}}}},
{"title":{"text":"Whooping cough","dy":4.5},"width":169,"height":109,"data":{"name":"p15"},"mark":"line","encoding":{"x":{"field":"t","type":"temporal","title":null,"scale":{"type":"utc","padding":7.6},"axis":{"format":"%Y-%m","values":[{"year":2022,"month":1,"date":1,"utc":true},{"year":2022,"month":3,"date":1,"utc":true},{"year":2022,"month":5,"date":1,"utc":true},{"year":2022,"month":7,"date":1,"utc":true},{"year":2022,"month":9,"date":1,"utc":true},{"year":2022,"month":11,"date":1,"utc":true}]}},"y":{"field":"v","type":"quantitative","title":null,"scale":{"zero":false,"nice":false,"padding":5},"axis":{"format":"d","values":[200,400,600,800]}},"color":{"field":"s","type":"nominal","legend":null,"scale":{"domain":["A","B","C","D"],"range":["#1f77b4","#ff7f0e","#2ca02c","#d62728"]}}}}
]
}
